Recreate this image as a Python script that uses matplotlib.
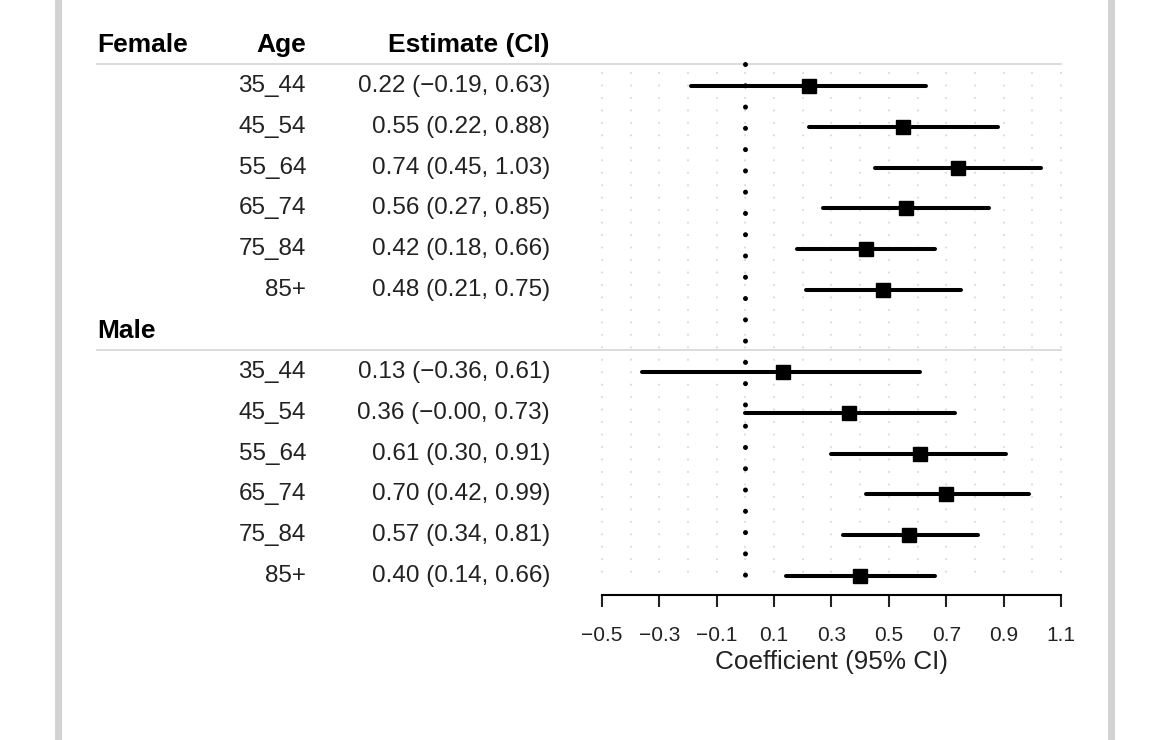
import numpy as np
import matplotlib
matplotlib.use("Agg")
import matplotlib.pyplot as plt
from matplotlib.patches import Rectangle
from matplotlib.transforms import blended_transform_factory

plt.rcParams['font.family'] = ['Liberation Sans', 'DejaVu Sans']

groups = ["Female", "Male"]
ages = ["35_44", "45_54", "55_64", "65_74", "75_84", "85+"]
female_est = [0.22, 0.55, 0.74, 0.56, 0.42, 0.48]
female_lo = [-0.19, 0.22, 0.45, 0.27, 0.18, 0.21]
female_hi = [0.63, 0.88, 1.03, 0.85, 0.66, 0.75]
male_est = [0.13, 0.36, 0.61, 0.70, 0.57, 0.40]
male_lo = [-0.36, -0.00, 0.30, 0.42, 0.34, 0.14]
male_hi = [0.61, 0.73, 0.91, 0.99, 0.81, 0.66]
xticks = [-0.5, -0.3, -0.1, 0.1, 0.3, 0.5, 0.7, 0.9, 1.1]
xlabel = "Coefficient (95% CI)"

W, H = 1170, 740
fig = plt.figure(figsize=(W / 100, H / 100), dpi=100)
fig.patch.set_facecolor("white")

# side gray bars
for x0 in (55, 1108):
    fig.patches.append(Rectangle((x0 / W, 0), 7 / W, 1, transform=fig.transFigure,
                                 facecolor="#d3d3d3", edgecolor="none", zorder=0))

row_top = 45.0
row_h = 40.85
ax_bottom_px = 595.0
ymax = (ax_bottom_px - row_top) / row_h
ymin = -0.6
ax_top_px = row_top + ymin * row_h
left_px, right_px = 602.0, 1061.0
ax = fig.add_axes([left_px / W, 1 - ax_bottom_px / H, (right_px - left_px) / W,
                   (ax_bottom_px - ax_top_px) / H])
ax.set_xlim(-0.5, 1.1)
ax.set_ylim(ymax, ymin)
ax.patch.set_alpha(0)
for s in ("top", "right", "left"):
    ax.spines[s].set_visible(False)
ax.spines["bottom"].set_linewidth(1.5)
ax.set_yticks([])
ax.set_xticks(xticks)
ax.set_xticklabels([f"{t:.1f}".replace("-", "\u2212") for t in xticks], fontsize=15)
ax.tick_params(axis="x", length=8.6, width=1.5, pad=14, colors="#222222")
ax.set_xlabel(xlabel, fontsize=18.8, labelpad=3, color="#222222")

# faint grid dots
g_top = (73 - row_top) / row_h
g_bot = (584 - row_top) / row_h
for gx in np.round(np.arange(-0.5, 1.1001, 0.1), 2):
    ax.plot([gx, gx], [g_top, g_bot], color="#dcdcdc", lw=1.6,
            linestyle=(0, (0.01, 5.6)), dash_capstyle="round", zorder=1, clip_on=False)

# reference line at zero
z_top = (64.3 - row_top) / row_h
ax.plot([0, 0], [z_top, ymax], color="black", lw=3.6,
        linestyle=(0, (0.01, 4.245)), dash_capstyle="round", zorder=2, clip_on=False)

trans = blended_transform_factory(fig.transFigure, ax.transData)

def fmt(v):
    return f"{v:.2f}".replace("-", "\u2212")

datasets = [(female_est, female_lo, female_hi), (male_est, male_lo, male_hi)]
txtcol = "#222222"
hfs = 19
for gi, (g, (est, lo, hi)) in enumerate(zip(groups, datasets)):
    base = gi * 7
    ax.text(97 / W, base, g, transform=trans, fontsize=hfs, fontweight="bold",
            ha="left", va="center", color="black", clip_on=False)
    if gi == 0:
        ax.text(306 / W, base, "Age", transform=trans, fontsize=hfs, fontweight="bold",
                ha="right", va="center", color="black")
        ax.text(550 / W, base, "Estimate (CI)", transform=trans, fontsize=hfs,
                fontweight="bold", ha="right", va="center", color="black")
    # header separator
    ax.plot([97 / W, right_px / W], [base + 0.47, base + 0.47], transform=trans,
            color="#d6d6d6", lw=1.2, clip_on=False, zorder=1)
    for ri, (a, e, l, h) in enumerate(zip(ages, est, lo, hi)):
        y = base + 1 + ri
        ax.text(306 / W, y, a, transform=trans, fontsize=17.5, ha="right",
                va="center", color=txtcol)
        ax.text(550 / W, y, f"{fmt(e)} ({fmt(l)}, {fmt(h)})", transform=trans,
                fontsize=17.5, ha="right", va="center", color=txtcol)
        ax.plot([l, h], [y, y], color="black", lw=2.9, solid_capstyle="round",
                zorder=3, clip_on=False)
        ax.plot([e], [y], marker="s", markersize=10, color="black", zorder=4,
                clip_on=False)

fig.savefig("out.png", dpi=100, facecolor="white")
